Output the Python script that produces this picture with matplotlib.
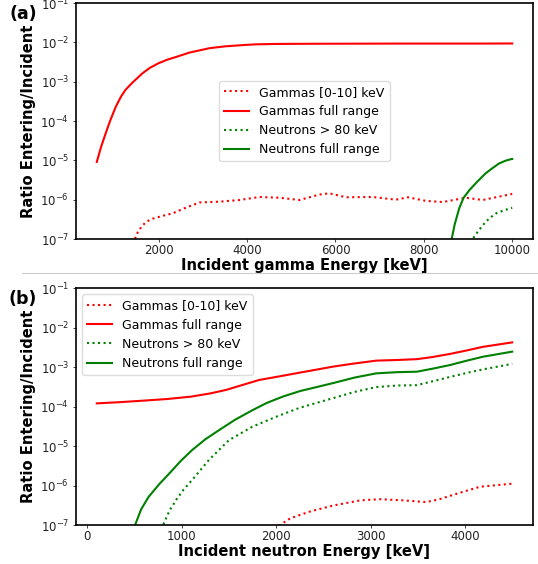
import matplotlib
matplotlib.use("Agg")
import matplotlib.pyplot as plt
from matplotlib.lines import Line2D

# ---------------- Panel (a): incident gammas ----------------
a_gfull_x = [600, 700, 800, 900, 1030, 1150, 1250, 1400, 1630, 1800, 2000, 2200, 2400, 2700, 3150,
             3500, 3900, 4200, 4650, 5500, 6500, 7500, 8500, 9300, 10000]
a_gfull_y = [9.1e-6, 2.24e-5, 4.8e-5, 1.0e-4, 2.3e-4, 4.2e-4, 6.2e-4, 9.3e-4, 1.62e-3, 2.24e-3,
             2.95e-3, 3.63e-3, 4.27e-3, 5.5e-3, 7.1e-3, 7.9e-3, 8.5e-3, 8.9e-3, 9.1e-3,
             9.2e-3, 9.25e-3, 9.3e-3, 9.3e-3, 9.3e-3, 9.35e-3]

a_glow_x = [1380, 1460, 1530, 1610, 1720, 1870, 2100, 2320, 2620, 2930, 3380, 3830, 4280, 4730, 5190,
            5640, 5860, 6240, 6840, 7370, 7640, 8050, 8430, 8950, 9330, 10000]
a_glow_y = [5.5e-8, 1.0e-7, 1.5e-7, 2.05e-7, 2.75e-7, 3.3e-7, 3.9e-7, 4.5e-7, 6.3e-7, 8.5e-7, 8.9e-7,
            9.8e-7, 1.17e-6, 1.12e-6, 9.8e-7, 1.35e-6, 1.45e-6, 1.15e-6, 1.17e-6, 1.0e-6, 1.15e-6,
            9.3e-7, 8.7e-7, 1.12e-6, 9.8e-7, 1.4e-6]

a_nhigh_x = [9000, 9140, 9250, 9400, 9520, 9630, 9800, 9950, 10000]
a_nhigh_y = [6.0e-8, 1.15e-7, 1.7e-7, 2.75e-7, 3.6e-7, 4.45e-7, 5.3e-7, 6.0e-7, 6.2e-7]

a_nfull_x = [8550, 8630, 8700, 8800, 8900, 9030, 9200, 9400, 9550, 9700, 9850, 9970, 10000]
a_nfull_y = [3.2e-8, 1.0e-7, 2.4e-7, 6.0e-7, 1.12e-6, 1.74e-6, 2.8e-6, 4.7e-6, 6.3e-6, 8.3e-6,
             9.8e-6, 1.07e-5, 1.08e-5]

# ---------------- Panel (b): incident neutrons ----------------
b_gfull_x = [100, 350, 600, 850, 1100, 1300, 1470, 1650, 1820, 2000, 2250, 2600, 2800, 3060, 3300,
             3490, 3650, 3840, 4000, 4190, 4500]
b_gfull_y = [1.2e-4, 1.29e-4, 1.41e-4, 1.55e-4, 1.78e-4, 2.14e-4, 2.63e-4, 3.55e-4, 4.7e-4, 5.6e-4,
             7.2e-4, 1.02e-3, 1.2e-3, 1.45e-3, 1.51e-3, 1.58e-3, 1.78e-3, 2.14e-3, 2.57e-3,
             3.24e-3, 4.2e-3]

b_glow_x = [1900, 2020, 2150, 2360, 2600, 2890, 3100, 3350, 3590, 3730, 3950, 4160, 4480, 4500]
b_glow_y = [5.0e-8, 9.3e-8, 1.48e-7, 2.2e-7, 3.1e-7, 4.2e-7, 4.5e-7, 4.2e-7, 3.8e-7, 4.5e-7,
            6.6e-7, 9.3e-7, 1.1e-6, 1.1e-6]

b_nhigh_x = [740, 810, 870, 940, 1020, 1110, 1290, 1500, 1750, 2000, 2250, 2600, 2830, 3060, 3280,
             3490, 3660, 3840, 4020, 4190, 4500]
b_nhigh_y = [3.0e-8, 1.1e-7, 2.3e-7, 4.3e-7, 7.9e-7, 1.38e-6, 4.5e-6, 1.41e-5, 3.1e-5, 5.5e-5,
             9.3e-5, 1.62e-4, 2.34e-4, 3.1e-4, 3.39e-4, 3.47e-4, 4.37e-4, 5.6e-4, 7.1e-4,
             8.7e-4, 1.2e-3]

b_nfull_x = [450, 506, 570, 650, 760, 870, 990, 1110, 1250, 1400, 1570, 1750, 1900, 2070, 2250,
             2600, 2830, 3060, 3280, 3490, 3660, 3840, 4020, 4190, 4500]
b_nfull_y = [3.0e-8, 1.0e-7, 2.5e-7, 5.2e-7, 1.07e-6, 2.04e-6, 4.2e-6, 7.9e-6, 1.48e-5, 2.57e-5,
             4.7e-5, 8.1e-5, 1.23e-4, 1.78e-4, 2.45e-4, 3.9e-4, 5.4e-4, 6.9e-4, 7.4e-4, 7.6e-4,
             9.1e-4, 1.12e-3, 1.45e-3, 1.82e-3, 2.45e-3]

labels = ["Gammas [0-10] keV", "Gammas full range", "Neutrons > 80 keV", "Neutrons full range"]
xlabels = ["Incident gamma Energy [keV]", "Incident neutron Energy [keV]"]
ylabel = "Ratio Entering/Incident"
panel_tags = ["(a)", "(b)"]

plt.rcParams['font.family'] = ['DejaVu Sans']

fig = plt.figure(figsize=(5.38, 5.64), dpi=100)
W, H = 538.0, 564.0

def make_axes(left, top, right, bottom):
    return fig.add_axes([left / W, 1 - bottom / H, (right - left) / W, (bottom - top) / H])

ax_a = make_axes(76, 3, 533, 239)
ax_b = make_axes(76, 288, 533, 525)

series_a = [(a_glow_x, a_glow_y), (a_gfull_x, a_gfull_y), (a_nhigh_x, a_nhigh_y), (a_nfull_x, a_nfull_y)]
series_b = [(b_glow_x, b_glow_y), (b_gfull_x, b_gfull_y), (b_nhigh_x, b_nhigh_y), (b_nfull_x, b_nfull_y)]
styles = [dict(color='red', ls=':'), dict(color='red', ls='-'),
          dict(color='green', ls=':'), dict(color='green', ls='-')]

for ax, series, xlim, xl, leg_loc in [
        (ax_a, series_a, (130, 10470), xlabels[0], 'center'),
        (ax_b, series_b, (-120, 4720), xlabels[1], 'upper left')]:
    for (xs, ys), st, lb in zip(series, styles, labels):
        ax.plot(xs, ys, lw=1.5, label=lb, **st)
    ax.set_yscale('log')
    ax.set_ylim(1e-7, 1e-1)
    ax.set_xlim(*xlim)
    ax.minorticks_off()
    ax.tick_params(axis='x', labelsize=8.5, length=2.5, width=0.6, pad=1.2, colors='#222222')
    ax.tick_params(axis='y', labelsize=8.5, length=2.5, width=0.6, pad=2.5, colors='#222222')
    for s in ax.spines.values():
        s.set_linewidth(1.2)
    ax.set_xlabel(xl, fontsize=10.6, fontweight='bold', labelpad=0.5)
    ax.set_ylabel(ylabel, fontsize=10.6, fontweight='bold', labelpad=3)
    ax.legend(loc=leg_loc, fontsize=9, frameon=True, framealpha=1.0, edgecolor='#dddddd',
              borderaxespad=0.5)

ax_a.set_xticks([2000, 4000, 6000, 8000, 10000])
ax_b.set_xticks([0, 1000, 2000, 3000, 4000])

fig.text(23 / W, 1 - 14 / H, panel_tags[0], fontsize=12.5, fontweight='bold', ha='center', va='center')
fig.text(23 / W, 1 - 299 / H, panel_tags[1], fontsize=12.5, fontweight='bold', ha='center', va='center')

fig.add_artist(Line2D([22 / W, 1.0], [1 - 272.5 / H, 1 - 272.5 / H], transform=fig.transFigure,
                      color='#cccccc', lw=0.8))

fig.savefig("out.png", dpi=100)
